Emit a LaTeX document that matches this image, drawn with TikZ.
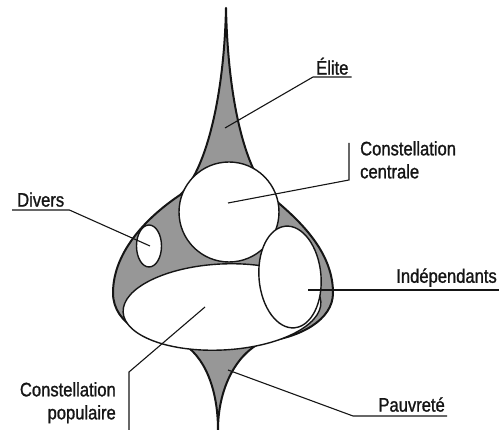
\documentclass[tikz,border=0pt]{standalone}
\usepackage{fontspec}
\setmainfont[FakeStretch=0.85, FakeBold=1.2]{Liberation Sans}
\usetikzlibrary{shapes.geometric}
\definecolor{ink}{HTML}{151515}
\definecolor{shade}{HTML}{979797}
\definecolor{paper}{HTML}{FFFFFF}
\tikzset{
  outline/.style={draw=ink, fill=shade, line width=2pt, line join=round},
  blob/.style={draw=ink, fill=paper, line width=1.4pt, inner sep=0pt},
  leader/.style={draw=ink, line width=1.1pt},
  lbl/.style={font=\fontsize{19.5}{23}\selectfont, color=ink, align=left}
}

\begin{document}
\begin{tikzpicture}[x=1pt, y=-1pt]
  \useasboundingbox (0,0) rectangle (499,430);

  % silhouette
  \draw[outline] (226,8) .. controls (228,100) and (245,175) .. (275,200)
    .. controls (305,225) and (333,255) .. (333,293)
    .. controls (333,320) and (300,338) .. (262,342)
    .. controls (235,355) and (218,390) .. (218,430)
    .. controls (218,390) and (205,355) .. (180,342)
    .. controls (150,340) and (113,325) .. (113,293)
    .. controls (113,250) and (150,215) .. (180,195)
    .. controls (205,172) and (224,100) .. (226,8) -- cycle;

  % constellations
  \node[blob, ellipse, minimum width=198pt, minimum height=86pt, rotate=3] (populaire-e) at (222,307) {};
  \node[blob, circle, minimum size=100pt] (centrale-c) at (229,212) {};
  \node[blob, ellipse, minimum width=25pt, minimum height=42pt] (divers-e) at (149,246) {};
  \node[blob, ellipse, minimum width=62pt, minimum height=102pt, rotate=5] (indep-e) at (290,277) {};

  % labels
  \node[lbl, anchor=south west, inner xsep=3pt, inner ysep=2pt] (elite) at (313,77) {Élite};
  \node[lbl, anchor=north west, inner sep=0pt] (centrale) at (360,141) {Constellation\\centrale};
  \node[lbl, anchor=south west, inner xsep=5pt, inner ysep=3pt] (divers) at (12,210) {Divers};
  \node[lbl, anchor=south east, inner xsep=2pt, inner ysep=3pt] (indep) at (499,290) {Indépendants};
  \node[lbl, anchor=south east, inner xsep=2pt, inner ysep=4pt] (pauvrete) at (447,416) {Pauvreté};
  \node[lbl, align=right, anchor=north east, inner sep=0pt] (populaire) at (116,382) {Constellation\\populaire};

  % leaders
  \coordinate (elite-p) at (225,128);
  \coordinate (centrale-p) at (228,203);
  \coordinate (centrale-k) at (349,180);
  \coordinate (centrale-t) at (349,143);
  \coordinate (divers-p) at (150,246);
  \coordinate (indep-p) at (308,290);
  \coordinate (pauvrete-p) at (228,370);
  \coordinate (pauvrete-k) at (353,416);
  \coordinate (populaire-p) at (205,307);
  \coordinate (populaire-k) at (129,372);
  \coordinate (populaire-b) at (129,430);

  \draw[leader] (elite-p) -- (elite.south west) -- (elite.south east);
  \draw[leader] (centrale-p) -- (centrale-k) -- (centrale-t);
  \draw[leader] (divers-p) -- (divers.south east) -- (divers.south west);
  \draw[leader] (indep-p) -- (indep.south east);
  \draw[leader] (pauvrete-p) -- (pauvrete-k) -- (pauvrete.south east);
  \draw[leader] (populaire-p) -- (populaire-k) -- (populaire-b);
\end{tikzpicture}
\end{document}
